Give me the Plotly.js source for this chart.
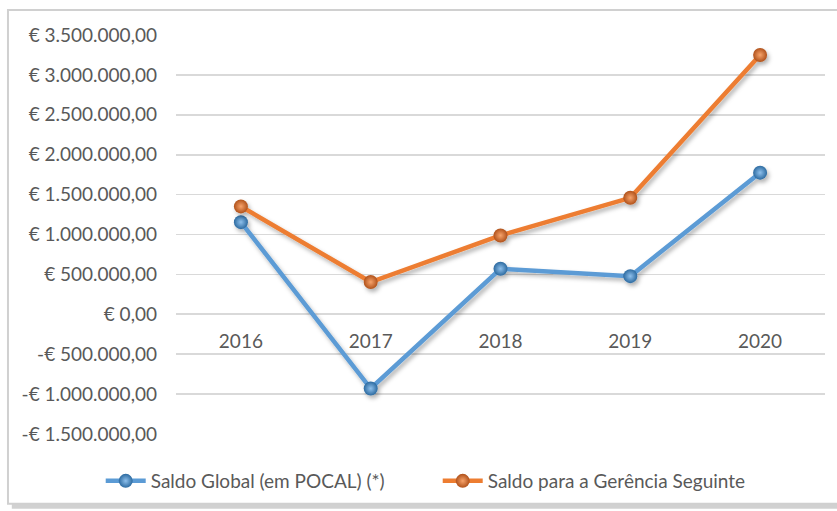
<!DOCTYPE html>
<html>
<head>
<meta charset="utf-8">
<script src="https://cdn.plot.ly/plotly-3.0.1.min.js"></script>
<style>
html,body{margin:0;padding:0;background:#fff;}
#chart{width:837px;height:511px;}
</style>
</head>
<body>
<div id="chart"></div>
<script>
const years = ['2016', '2017', '2018', '2019', '2020'];
const saldoGlobal = [1155000, -930000, 571000, 478000, 1775000];
const saldoGerencia = [1352000, 404000, 988000, 1460000, 3250000];
const seriesNames = ['Saldo Global (em POCAL) (*)', 'Saldo para a Gerência Seguinte'];
const yTickVals = [-1500000, -1000000, -500000, 0, 500000, 1000000, 1500000, 2000000, 2500000, 3000000, 3500000];
const yTickText = ['-€ 1.500.000,00', '-€ 1.000.000,00', '-€ 500.000,00', '€ 0,00', '€ 500.000,00', '€ 1.000.000,00', '€ 1.500.000,00', '€ 2.000.000,00', '€ 2.500.000,00', '€ 3.000.000,00', '€ 3.500.000,00'];

const FONT = 'Lato, "Open Sans", sans-serif';
const TXT = '#595959';
const FS = 19;
const yMin = -1500000, yMax = 3500000;

function trace(y, name, color, dark, light) {
  return {
    type: 'scatter', mode: 'lines+markers', x: years, y: y, name: name,
    line: {color: color, width: 4.5},
    marker: {size: 14, color: dark, gradient: {type: 'radial', color: light}, line: {width: 0}},
    cliponaxis: false
  };
}

const data = [
  trace(saldoGlobal, seriesNames[0], '#5B9BD5', '#2C6AA0', '#8EC0EC'),
  trace(saldoGerencia, seriesNames[1], '#ED7D31', '#B0511A', '#F7A36B')
];

const layout = {
  width: 837, height: 511,
  margin: {l: 176, r: 12, t: 35, b: 76},
  paper_bgcolor: '#fff', plot_bgcolor: 'rgba(0,0,0,0)',
  font: {family: FONT, size: FS, color: TXT},
  showlegend: true,
  legend: {
    orientation: 'h', x: -0.116, xanchor: 'left', y: -0.115, yanchor: 'middle',
    font: {family: FONT, size: FS, color: TXT}, bgcolor: 'rgba(0,0,0,0)',
    entrywidth: 282, entrywidthmode: 'pixels', itemwidth: 40
  },
  xaxis: {
    type: 'category', range: [-0.5, 4.5], showgrid: false, zeroline: false, showline: false,
    anchor: 'free', position: (0 - yMin) / (yMax - yMin), ticks: '', ticklabelstandoff: 14,
    tickfont: {family: FONT, size: FS, color: TXT}, fixedrange: true
  },
  yaxis: {
    range: [yMin, yMax], tickvals: yTickVals, ticktext: yTickText,
    showgrid: true, gridcolor: '#D9D9D9', gridwidth: 1.6, zeroline: false, showline: false,
    ticks: '', ticklabelstandoff: 18, tickfont: {family: FONT, size: FS, color: TXT}, fixedrange: true
  },
  shapes: [
    {type: 'rect', xref: 'paper', yref: 'paper', x0: -0.2530, x1: 1.03, y0: -0.1875, y1: 1.0575,
     line: {width: 0}, fillcolor: 'rgba(0,0,0,0.18)', layer: 'below'},
    {type: 'rect', xref: 'paper', yref: 'paper', x0: -0.2589, x1: 1.03, y0: -0.175, y1: 1.0625,
     line: {width: 2, color: '#D0D0D0'}, fillcolor: '#fff', layer: 'below'}
  ]
};

Plotly.newPlot('chart', data, layout, {staticPlot: true, displayModeBar: false}).then(function (gd) {
  const NS = 'http://www.w3.org/2000/svg';
  const svg = gd.querySelector('svg.main-svg');
  let defs = svg.querySelector('defs');
  if (!defs) { defs = document.createElementNS(NS, 'defs'); svg.insertBefore(defs, svg.firstChild); }
  const f = document.createElementNS(NS, 'filter');
  f.setAttribute('id', 'lineShadow');
  f.setAttribute('x', '-10%'); f.setAttribute('y', '-10%');
  f.setAttribute('width', '130%'); f.setAttribute('height', '130%');
  const ds = document.createElementNS(NS, 'feDropShadow');
  ds.setAttribute('dx', '2'); ds.setAttribute('dy', '3');
  ds.setAttribute('stdDeviation', '2');
  ds.setAttribute('flood-color', '#000'); ds.setAttribute('flood-opacity', '0.3');
  f.appendChild(ds);
  defs.appendChild(f);
  gd.querySelectorAll('.scatterlayer .trace').forEach(function (t) { t.setAttribute('filter', 'url(#lineShadow)'); });
});
</script>
</body>
</html>
